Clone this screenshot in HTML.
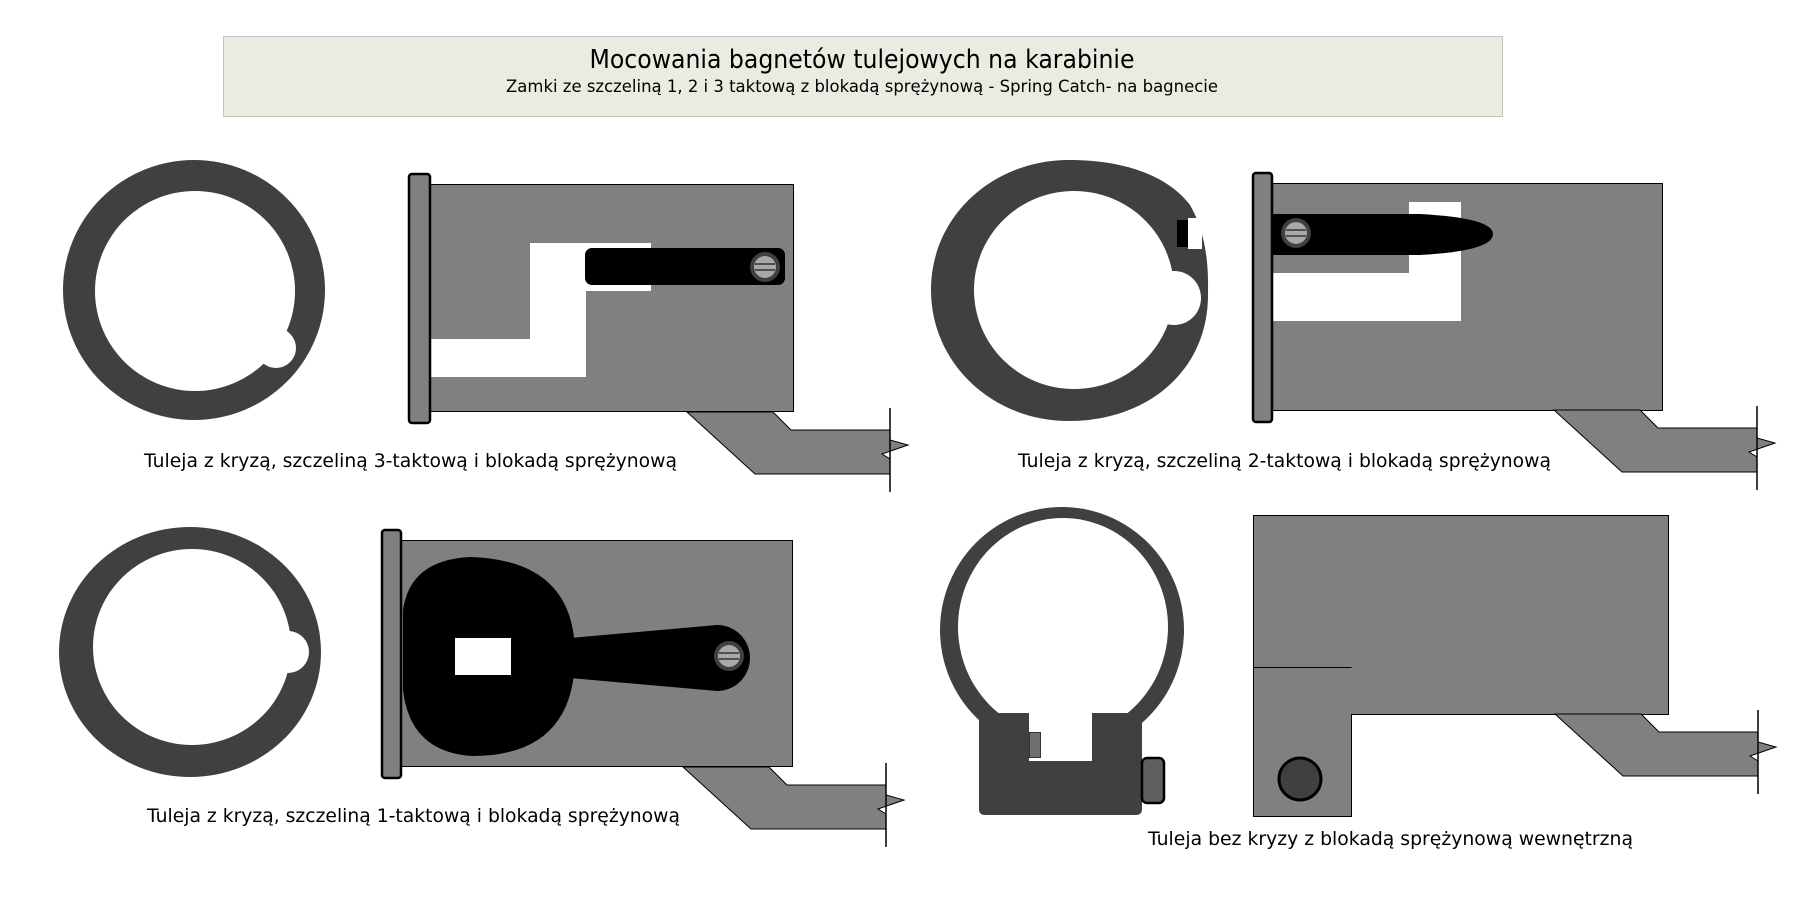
<!DOCTYPE html>
<html><head><meta charset="utf-8"><style>
html,body{margin:0;padding:0;background:#fff;}
svg{display:block;}
text{font-family:"DejaVu Sans","Liberation Sans",sans-serif;fill:#000;}
</style></head><body>
<svg width="1806" height="901" viewBox="0 0 1806 901" xmlns="http://www.w3.org/2000/svg">
<defs>
<g id="arm">
<polygon points="-203,0 -117,0 -99,18 0,18 0,28 18,33 -8,42 0,47 0,62 -135,62" fill="#808080" stroke="#000" stroke-width="1"/>
<line x1="0" y1="-4" x2="0" y2="80" stroke="#000" stroke-width="1.5"/>
</g>
<g id="screw">
<circle r="15" fill="#404040"/>
<circle r="11" fill="#a8a8a8"/>
<line x1="-10" y1="-3" x2="10" y2="-3" stroke="#333" stroke-width="1.5"/>
<line x1="-10" y1="3" x2="10" y2="3" stroke="#333" stroke-width="1.5"/>
</g>
</defs>

<!-- title -->
<rect x="223.5" y="36.5" width="1279" height="80" fill="#ecebe2" stroke="#c4c4bc" stroke-width="1"/>
<text x="862" y="68" font-size="26" text-anchor="middle" textLength="545" lengthAdjust="spacingAndGlyphs">Mocowania bagnetów tulejowych na karabinie</text>
<text x="862" y="92" font-size="17" text-anchor="middle" textLength="712" lengthAdjust="spacingAndGlyphs">Zamki ze szczeliną 1, 2 i 3 taktową z blokadą sprężynową - Spring Catch- na bagnecie</text>

<!-- Panel 1 -->
<ellipse cx="194" cy="290" rx="131" ry="130" fill="#404040"/>
<ellipse cx="195" cy="291" rx="100" ry="100" fill="#fff"/>
<circle cx="276" cy="348" r="20" fill="#fff"/>
<rect x="430.5" y="184.5" width="363" height="227" fill="#808080" stroke="#000"/>
<polygon points="530,243 651,243 651,291 586,291 586,377 431,377 431,339 530,339" fill="#fff"/>
<rect x="585" y="248" width="200" height="37" rx="7" fill="#000"/>
<use href="#screw" x="765" y="267"/>
<rect x="409" y="174" width="21" height="249" rx="3" fill="#808080" stroke="#000" stroke-width="2.5"/>
<use href="#arm" x="890" y="412"/>
<text x="144" y="467" font-size="19" textLength="533" lengthAdjust="spacingAndGlyphs">Tuleja z kryzą, szczeliną 3-taktową i blokadą sprężynową</text>

<!-- Panel 2 -->
<path d="M1069,160 C1140,160 1175,185 1190,205 C1210,240 1208,280 1208,295 C1208,372 1146,421 1069,421 C992,421 931,363 931,290 C931,217 992,160 1069,160 Z" fill="#404040"/>
<ellipse cx="1074" cy="290" rx="100" ry="99" fill="#fff"/>
<circle cx="1174" cy="298" r="27" fill="#fff"/>
<rect x="1188" y="218" width="14" height="31" fill="#fff"/>
<rect x="1177" y="220" width="11" height="27" fill="#000"/>
<rect x="1272.5" y="183.5" width="390" height="227" fill="#808080" stroke="#000"/>
<rect x="1409" y="202" width="52" height="119" fill="#fff"/>
<rect x="1273" y="273" width="188" height="48" fill="#fff"/>
<path d="M1253,214 L1420,214 Q1493,218 1493,234 Q1493,251 1420,255 L1253,255 Z" fill="#000"/>
<use href="#screw" x="1296" y="233"/>
<rect x="1253" y="173" width="19" height="249" rx="3" fill="#808080" stroke="#000" stroke-width="2.5"/>
<use href="#arm" x="1757" y="410"/>
<text x="1018" y="467" font-size="19" textLength="533" lengthAdjust="spacingAndGlyphs">Tuleja z kryzą, szczeliną 2-taktową i blokadą sprężynową</text>

<!-- Panel 3 -->
<ellipse cx="190" cy="652" rx="131" ry="125" fill="#404040"/>
<ellipse cx="192" cy="647" rx="99" ry="98" fill="#fff"/>
<circle cx="288" cy="652" r="21" fill="#fff"/>
<rect x="401.5" y="540.5" width="391" height="226" fill="#808080" stroke="#000"/>
<path d="M403,610 Q410,560 470,557 Q575,560 575,655 Q575,756 472,756 Q410,752 403,690 Z" fill="#000"/>
<path d="M570,638 L717,625 A33,33 0 0 1 717,691 L570,678 Z" fill="#000"/>
<rect x="455" y="638" width="56" height="37" fill="#fff"/>
<use href="#screw" x="729" y="656"/>
<rect x="382" y="530" width="19" height="248" rx="3" fill="#808080" stroke="#000" stroke-width="2.5"/>
<use href="#arm" x="886" y="767"/>
<text x="147" y="822" font-size="19" textLength="533" lengthAdjust="spacingAndGlyphs">Tuleja z kryzą, szczeliną 1-taktową i blokadą sprężynową</text>

<!-- Panel 4 -->
<ellipse cx="1062" cy="630" rx="122" ry="123" fill="#404040"/>
<ellipse cx="1063" cy="627" rx="105" ry="109" fill="#fff"/>
<path d="M979,713 L1142,713 L1142,809 Q1142,815 1136,815 L985,815 Q979,815 979,809 Z" fill="#404040"/>
<rect x="1029" y="700" width="63" height="61" fill="#fff"/>
<rect x="1029.5" y="732.5" width="11" height="25" fill="#707070" stroke="#333" stroke-width="1"/>
<rect x="1142" y="758" width="22" height="45" rx="5" fill="#606060" stroke="#000" stroke-width="2.5"/>
<polygon points="1253.5,515.5 1668.5,515.5 1668.5,714.5 1351.5,714.5 1351.5,816.5 1253.5,816.5" fill="#808080" stroke="#000"/>
<line x1="1253.5" y1="667.5" x2="1351.5" y2="667.5" stroke="#000"/>
<ellipse cx="1300" cy="779" rx="21" ry="21" fill="#404040" stroke="#000" stroke-width="3"/>
<use href="#arm" x="1758" y="714"/>
<text x="1148" y="845" font-size="19" textLength="485" lengthAdjust="spacingAndGlyphs">Tuleja bez kryzy z blokadą sprężynową wewnętrzną</text>
</svg>
</body></html>
